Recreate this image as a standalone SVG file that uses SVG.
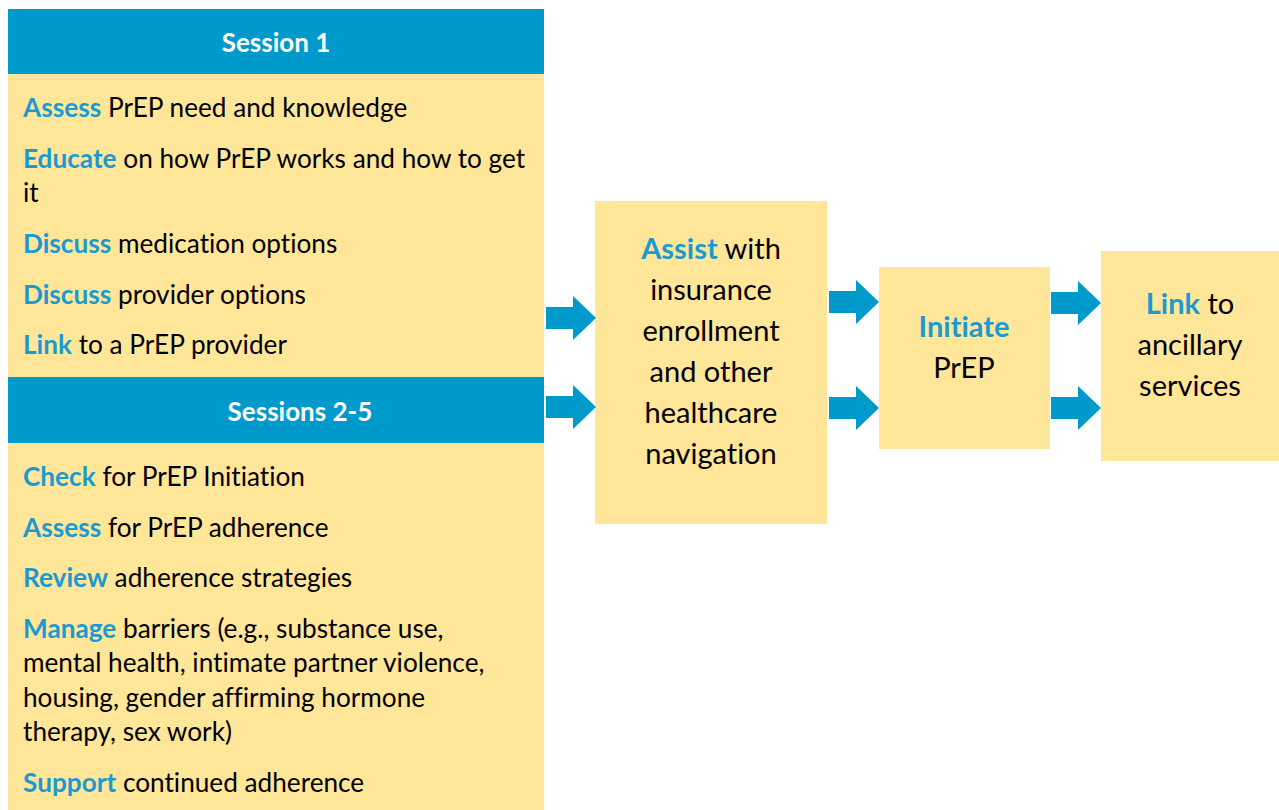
<svg xmlns="http://www.w3.org/2000/svg" width="1279" height="810" viewBox="0 0 1279 810">
  <style>
    text { font-family: Lato, "Open Sans", "Liberation Sans", sans-serif; fill: #000; font-variant-ligatures: none; font-feature-settings: "liga" 0; }
    .body { font-size: 26.2px; }
    .big { font-size: 29px; }
    .hd { font-size: 26px; font-weight: bold; fill: #fff; }
    .k { fill: #1B9AD2; font-weight: bold; }
    .box { fill: #FFE699; }
    .bar { fill: #0099CC; }
    .arr { fill: #0099CC; }
  </style>
  <defs>
    <!-- block arrow, 50 wide, tip at (50,0) -->
    <path id="blockArrow" d="M0,-11 H27 V-22 L50,0 L27,22 V11 H0 Z"/>
  </defs>

  <g id="session1">
    <rect class="box" x="8" y="74" width="536" height="303"/>
    <rect class="bar" x="8" y="9" width="536" height="65"/>
    <text class="hd" x="276" y="52" text-anchor="middle">Session 1</text>
    <text class="body" x="23" y="117"><tspan class="k">Assess</tspan> PrEP need and knowledge</text>
    <text class="body" x="23" y="168"><tspan class="k">Educate</tspan> on how PrEP works and how to get</text>
    <text class="body" x="23" y="202">it</text>
    <text class="body" x="23" y="253"><tspan class="k">Discuss</tspan> medication options</text>
    <text class="body" x="23" y="304"><tspan class="k">Discuss</tspan> provider options</text>
    <text class="body" x="23" y="354"><tspan class="k">Link</tspan> to a PrEP provider</text>
  </g>

  <g id="sessions2to5">
    <rect class="bar" x="8" y="377" width="536" height="66"/>
    <rect class="box" x="8" y="443" width="536" height="367"/>
    <text class="hd" x="300" y="421" text-anchor="middle">Sessions 2-5</text>
    <text class="body" x="23" y="486"><tspan class="k">Check</tspan> for PrEP Initiation</text>
    <text class="body" x="23" y="537"><tspan class="k">Assess</tspan> for PrEP adherence</text>
    <text class="body" x="23" y="587"><tspan class="k">Review</tspan> adherence strategies</text>
    <text class="body" x="23" y="638"><tspan class="k">Manage</tspan> barriers (e.g., substance use,</text>
    <text class="body" x="23" y="672">mental health, intimate partner violence,</text>
    <text class="body" x="23" y="707">housing, gender affirming hormone</text>
    <text class="body" x="23" y="741">therapy, sex work)</text>
    <text class="body" x="23" y="792"><tspan class="k">Support</tspan> continued adherence</text>
  </g>

  <g id="assist">
    <rect class="box" x="595" y="201" width="232" height="323"/>
    <g class="big" text-anchor="middle">
      <text x="711" y="259"><tspan class="k">Assist</tspan> with</text>
      <text x="711" y="300">insurance</text>
      <text x="711" y="341">enrollment</text>
      <text x="711" y="382">and other</text>
      <text x="711" y="423">healthcare</text>
      <text x="711" y="464">navigation</text>
    </g>
  </g>

  <g id="initiate">
    <rect class="box" x="879" y="267" width="171" height="182"/>
    <g class="big" text-anchor="middle">
      <text x="964" y="337" class="k">Initiate</text>
      <text x="964" y="378">PrEP</text>
    </g>
  </g>

  <g id="link">
    <rect class="box" x="1101" y="251" width="178" height="210"/>
    <g class="big" text-anchor="middle">
      <text x="1190" y="314"><tspan class="k">Link</tspan> to</text>
      <text x="1190" y="355">ancillary</text>
      <text x="1190" y="396">services</text>
    </g>
  </g>

  <g id="connectors" class="arr">
    <use href="#blockArrow" x="546" y="318"/>
    <use href="#blockArrow" x="546" y="407"/>
    <use href="#blockArrow" x="829" y="302"/>
    <use href="#blockArrow" x="829" y="408"/>
    <use href="#blockArrow" x="1051" y="303"/>
    <use href="#blockArrow" x="1051" y="408"/>
  </g>
</svg>
